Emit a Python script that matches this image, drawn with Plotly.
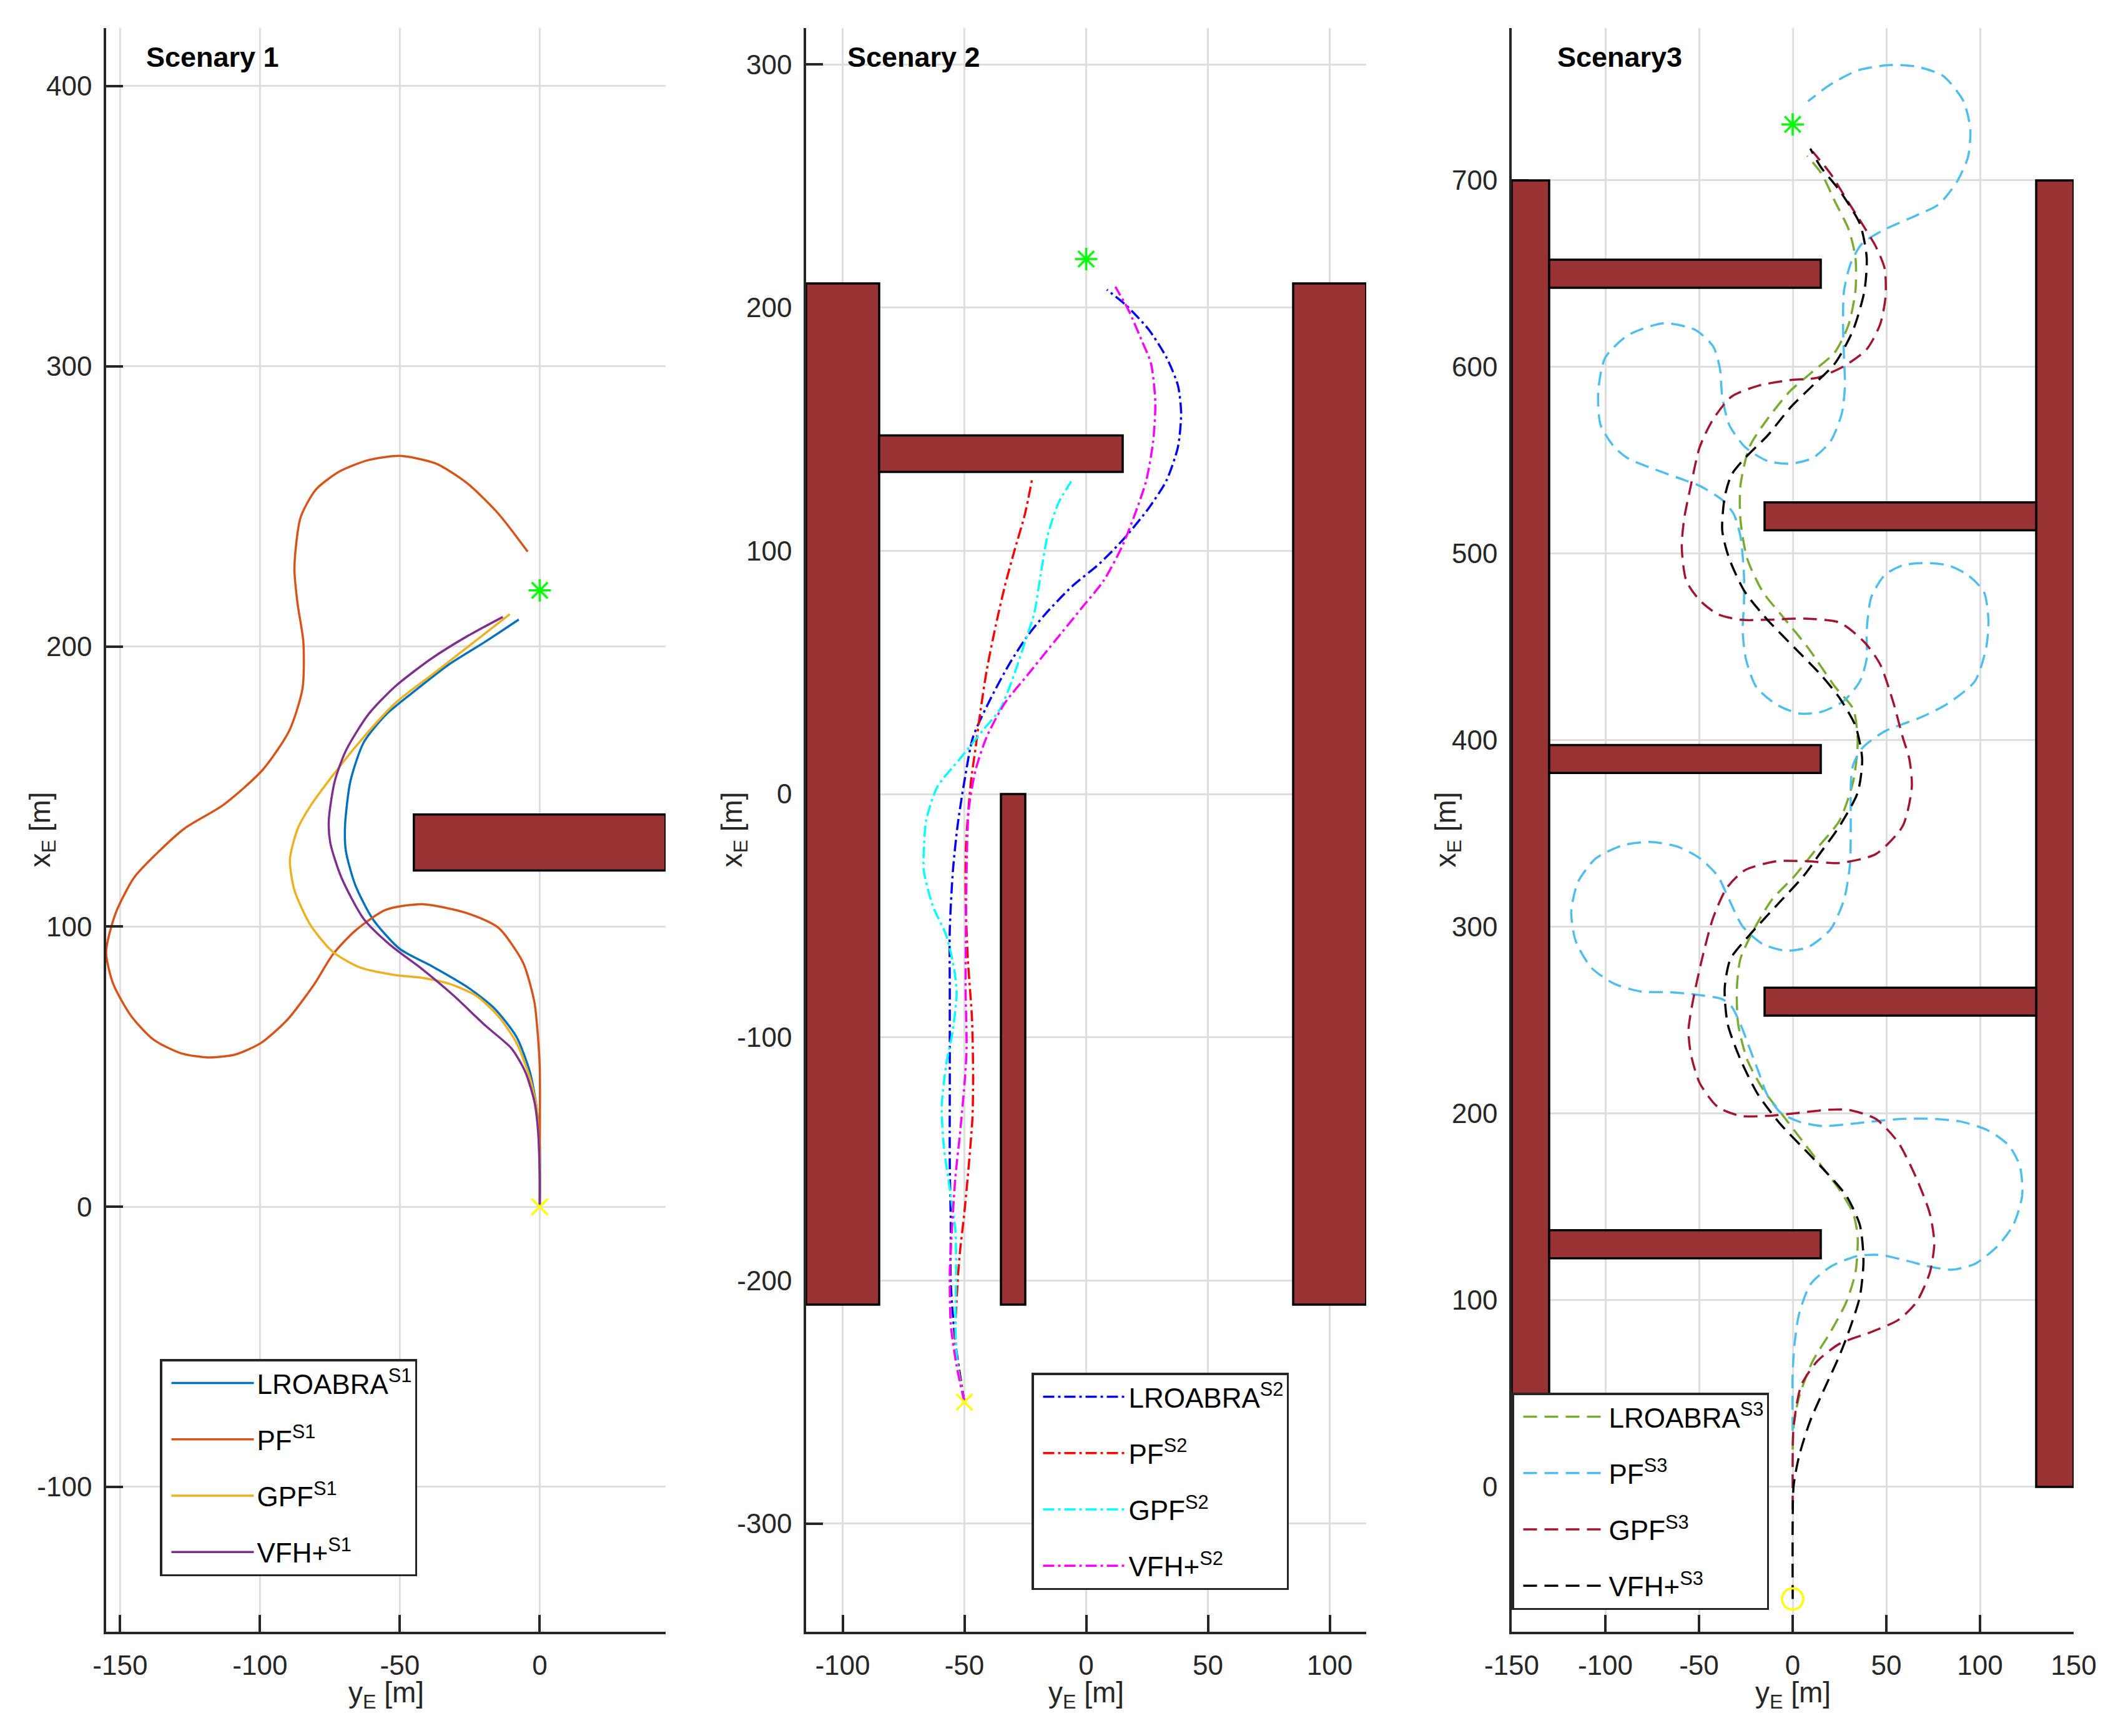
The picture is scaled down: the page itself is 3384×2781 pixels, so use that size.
import plotly.graph_objects as go

W, H = 3384, 2781
FONT = "Liberation Sans, Arial, Helvetica, sans-serif"

# ---------------- Scenario 1 (y_E horizontal, x_E vertical) ----------------
s1_lroabra_y = [0, 0, -1.1, -3.5, -8.3, -16.4, -26, -38.8, -50, -59.7, -66, -69.3, -69.6, -67.7, -62.9, -54.9, -45.2, -32.4, -19.6, -7.5]
s1_lroabra_x = [0, 22, 35.4, 48, 60.6, 71, 78.5, 86, 92, 102.7, 115, 127, 136, 151.8, 165.8, 175.7, 183.7, 193.6, 201.6, 209.6]
s1_pf_y = [0, 0, 0, -1, -1.9, -5.9, -14.8, -26, -42, -55, -66, -74, -80.5, -90, -99.6, -109, -118.6, -128, -138, -146, -152.5, -155,
           -151.6, -145, -137, -127, -113, -99, -89.5, -84.8, -84.5, -86.6, -87.7, -85.5, -80, -71.5, -61.3, -50, -37.2, -26, -14.8, -4.3]
s1_pf_x = [0, 15, 50, 65, 73, 87, 99.6, 104.8, 108, 106, 98.5, 90, 79.6, 67, 58.5, 54.3, 53.3, 54.7, 59.6, 68, 79.6, 91,
           104.8, 117.5, 126, 135, 143.5, 156, 170, 185, 201.6, 215.5, 228, 246, 256, 262.5, 266.5, 268, 265.3, 258.3, 247.4, 233.8]
s1_gpf_y = [0, 0, -0.3, -1.1, -3.5, -8.3, -14.8, -22.8, -32.4, -42, -51.7, -64.5, -74, -82, -87.7, -89.3, -86.5, -82, -74.1, -64.5, -51.7, -38.8, -26, -10.7]
s1_gpf_x = [0, 15, 22.7, 35.4, 46, 58.5, 68, 75.4, 79.6, 81.7, 82.7, 85.5, 91, 100.6, 113, 124, 135, 143, 153.8, 165.8, 179.7, 189.7, 199.6, 211.5]
s1_vfh_y = [0, 0, -0.6, -1.9, -5.1, -10, -19.6, -30.8, -42, -53.3, -62.9, -70.9, -74.9, -75.4, -73.3, -69.3, -61.3, -51.7, -38.8, -26, -13.2]
s1_vfh_x = [0, 10, 27, 37.5, 48, 56.4, 64.8, 75.4, 84.8, 93.3, 102.7, 117.5, 130, 138, 151.8, 162.8, 175.7, 185.7, 195.6, 203.6, 210.5]
s1_goal = (0, 220)
s1_start = (0, 0)
# obstacles: y_E min, y_E max, x_E min, x_E max
s1_obs_ymin = [-45]
s1_obs_ymax = [45]
s1_obs_xmin = [120]
s1_obs_xmax = [140]

# ---------------- Scenario 2 ----------------
s2_lroabra_y = [-50, -53.7, -55.6, -55.6, -56, -56, -56, -56, -54.7, -52.8, -50, -46.4, -39, -31.6, -24.2, -16.8, -5.7, 5.4, 15.5, 25.7, 33, 37.7, 39, 37.7, 33, 25.7, 16.4, 8.5]
s2_lroabra_x = [-250, -225.5, -201, -177, -152.7, -116, -79.9, -55.6, -31.3, -13, 5.3, 23.6, 39.7, 53.4, 64.9, 74, 85.5, 94.7, 105, 117.6, 129, 142.8, 156.5, 168, 179.5, 191, 201, 207.4]
s2_pf_y = [-50, -53.7, -52.8, -51.9, -50, -48.2, -46.7, -46.4, -46.9, -48.6, -49.5, -49.3, -47.3, -45.4, -43.6, -40.8, -37.1, -33.4, -29.7, -25.1, -22.2]
s2_pf_x = [-250, -225.5, -201, -189, -172, -152.7, -133.3, -116.3, -92, -67.7, -43.4, -20, 5.3, 19, 32.8, 51.1, 69.4, 85.5, 99.2, 115.3, 129.5]
s2_gpf_y = [-50, -52.8, -53.7, -53.4, -53.7, -56, -58.4, -59.3, -57.5, -54.7, -53.2, -54.1, -57.5, -63, -66.7, -66.5, -65.7, -61.1, -51.9, -42.7,
            -35.3, -29.7, -25.1, -21.4, -18.7, -15.9, -11.3, -6.1]
s2_gpf_x = [-250, -235.2, -218.2, -196.4, -179.4, -162.4, -145.4, -128.4, -111.4, -96.8, -82.3, -72.6, -58, -45.9, -31.3, -20, -10.8, 3, 14.4, 25.9,
            35, 48.8, 62.6, 74, 90, 106, 119.9, 128.6]
s2_vfh_y = [-50, -53.2, -55.6, -56, -55, -53.7, -51.9, -49.7, -49.1, -49.5, -49.1, -48.2, -45.4, -40.8, -33.4, -24.2, -13.1, -2, 7.2, 14.6,
            20.1, 24.7, 27.5, 28.4, 26.6, 22.9, 17.4, 12]
s2_vfh_x = [-250, -235.2, -218, -196.4, -177, -157.5, -140.5, -116, -104, -79.9, -31.3, -6.2, 9.9, 23.6, 37.4, 48.8, 62.6, 76.3, 87.8, 101.5,
            115.3, 129, 145, 161.1, 177.2, 186.3, 199, 208.6]
s2_goal = (0, 220)
s2_start = (-50, -250)
s2_obs_ymin = [-115, -85, -35, 85]
s2_obs_ymax = [-85, 15, -25, 115]
s2_obs_xmin = [-210, 132.5, -210, -210]
s2_obs_xmax = [210, 147.5, 0, 210]

# ---------------- Scenario 3 ----------------
s3_lroabra_y = [0, 0.5, 3.4, 10.6, 20.2, 28.6, 33.5, 34.7, 32.3, 25, 15.4, 3.4, -6.3, -15.9, -24.3, -29.1, -29.8, -27.9, -20.7, -11.1, 1, 12, 25,
                32.3, 34.7, 32.3, 22.6, 8.2, -3.9, -15.9, -24.3, -27.9, -27.9, -23.1, -13.5, -1.4, 10.6, 22.6, 29.9, 33.5, 33.5, 29.9, 22.6, 15.4, 7.7]
s3_lroabra_x = [20, 32.3, 48.2, 67.2, 83, 99, 114.8, 133.8, 146.5, 159.2, 171.9, 187.7, 200.4, 213.1, 229, 248, 267, 282.9, 298.7, 314.6, 327.3, 341, 357,
                378, 398.8, 416.8, 428.7, 449.6, 464.6, 479.5, 497.4, 518.3, 536.3, 557.2, 572.1, 587.1, 597.5, 608, 622.9, 640.8, 658.7, 673.7, 688.6, 703.6, 713.1]
s3_pf_y = [0, 0, 1, 3.4, 9.4, 20.2, 34.7, 46.7, 61.1, 73.2, 85.2, 97.3, 109.3, 117.7, 122.5, 121.3, 115.3, 104.5, 90, 75.6, 58.7, 41.9, 27.4, 15.4,
           3.4, -6.3, -13.5, -18.3, -23.1, -27.9, -32.7, -37.6, -52, -66.4, -80.9, -95.3, -107.4, -115.8, -118.2, -114.6, -105, -90.5, -76.1,
           -61.6, -49.6, -40, -33.9, -26.7, -15.9, -3.9, 8.2, 20.2, 27.4, 30.6, 31, 31.1, 32.3, 37.1, 49.1, 68.4, 82.8, 97.3, 103.3, 104.5,
           102.1, 93.6, 82.8, 70.8, 58.7, 49.1, 41.9, 39.5, 39.5, 35.9, 27.4, 15.4, 3.4, -8.7, -19.5, -25, -26.7, -26, -26, -27.9, -31.5,
           -37.6, -49.6, -61.6, -73.7, -88.1, -95.3, -102.6, -103.8, -100.1, -88.1, -68.8, -52, -42.4, -38.8, -37.6, -33.9, -25.5, -13.5,
           -1.4, 10.6, 20.2, 26.2, 27.9, 27.4, 26.9, 27.4, 31.1, 37.1, 49.1, 66, 78, 87.6, 93.6, 94.8, 91.2, 80.4, 66, 51.5, 34.7, 20.2, 8.2]
s3_pf_x = [30, 60.8, 76.7, 92.6, 108.4, 118, 123.7, 124.3, 121.1, 118, 116.4, 119.5, 129, 140.2, 156, 171.9, 183, 190.9, 195.7, 197.2, 197.2, 195.7, 194.1, 193.4,
           195.7, 200.4, 209.9, 222.6, 235.3, 248, 257.5, 261.3, 263.8, 265.1, 265.4, 269.6, 278.1, 292.4, 308.2, 324.1, 336.8, 343.8, 345.6,
           343.1, 336.8, 327.3, 314.6, 300.3, 290.8, 287.3, 289.2, 298.7, 314.6, 333.6, 352.6, 377.9, 386.9, 395.8, 404.8, 412.3, 419.7, 431.7, 449.6, 464.6,
           479.5, 488.5, 493.8, 495, 493.8, 488.5, 476.5, 458.6, 443.7, 431.7, 421.2, 415.3, 414.4, 419.2, 428.7, 443.7, 458.6, 473.5, 488.5, 509.4, 521.3,
           528.8, 536.3, 540.8, 545.2, 551.2, 557.2, 569.1, 587.1, 605, 616.9, 623.5, 619.9, 611, 599, 584.1, 569.1, 557.2, 549.7,
           548.2, 551.2, 560.2, 575.1, 590, 605, 622.9, 640.8, 655.8, 666.2, 673.7, 681.2, 687.2, 699.1, 712.5, 727.5, 742.4, 755.9, 761, 761.8, 758.9, 751.4, 742.4]
s3_gpf_y = [0, 0, 0.5, 4.6, 13, 25, 41.9, 56.3, 66, 73.2, 75.6, 73.2, 66, 56.3, 44.3, 29.9, 17.8, 3.4, -13.5, -27.9, -40, -49.6, -54.4, -55.6, -53.2,
            -48.4, -42.4, -35.2, -25.5, -8.7, 8.2, 25, 44.3, 58.7, 63.6, 62.3, 58.7, 53.9, 46.7, 38.3, 25, 5.8, -13.5, -27.9, -40, -49.6, -56.8,
            -59.2, -58, -54.4, -49.6, -42.4, -32.7, -18.3, -1.4, 13, 27.4, 39.5, 46.7, 49.6, 49.1, 44.3, 37.1, 28.6, 20.2, 10.6]
s3_gpf_x = [-12, -5.7, 32.3, 54.5, 67.2, 76.7, 83, 89.4, 98.9, 114.8, 130.6, 146.5, 165.5, 184.6, 197.2, 202, 202, 200.4, 198.8, 198.8, 203.6, 216.3, 232.1, 244.8, 260.7,
            282.9, 305.1, 320.9, 330.4, 335.2, 335.2, 334.3, 339, 354, 374.9, 389.9, 401.8, 419.7, 440.7, 452.6, 463.1, 465.2, 464.6, 464.6, 467.6, 475, 485.5,
            503.4, 518.3, 536.3, 557.2, 572.1, 584.1, 590, 593, 594.2, 600.5, 609.5, 622.9, 637.9, 652.8, 664.7, 676.7, 690.1, 703.6, 715.5]
s3_vfh_y = [0, 0, 0.5, 3.4, 9.4, 17.8, 25, 31, 35.9, 37.8, 35.9, 28.6, 17.8, 5.8, -6.3, -18.3, -27.9, -34.7, -36.3, -33.2, -23.1, -8.7, 5.8, 15,
            25, 34.7, 37.1, 33.5, 25, 15.4, 1, -13.5, -25.5, -33.9, -37.6, -36.3, -32.7, -25.5, -13.5, -1.4, 10.6, 22.6, 32.3, 38.3, 39.5, 35.9, 25, 15.4, 9.4]
s3_vfh_x = [-60, -18.4, 0.6, 16.5, 35.5, 54.5, 70.4, 86.2, 102.1, 121.1, 140.2, 156, 168.7, 181.4, 194.1, 209.9, 229, 248, 267, 282.9, 295.6, 311.4, 327.3, 340,
            354, 372, 389.9, 407.8, 422.7, 434.7, 449.6, 464.6, 479.5, 497.4, 512.4, 530.3, 542.2, 551.2, 563.2, 578.1, 590, 602, 619.9, 640.8, 658.8, 676.7, 694.6, 706.6, 717]
s3_goal = (0, 730)
s3_start = (0, -60)
s3_obs_ymin = [-150, 130, -130, -130, -130, -15, -15]
s3_obs_ymax = [-130, 150, 15, 15, 15, 130, 130]
s3_obs_xmin = [0, 0, 642.5, 382.5, 122.5, 512.5, 252.5]
s3_obs_xmax = [700, 700, 657.5, 397.5, 137.5, 527.5, 267.5]

methods = ["LROABRA", "PF", "GPF", "VFH+"]

# tick values / labels
s1_xticks = [-150, -100, -50, 0]
s1_yticks = [-100, 0, 100, 200, 300, 400]
s2_xticks = [-100, -50, 0, 50, 100]
s2_yticks = [-300, -200, -100, 0, 100, 200, 300]
s3_xticks = [-150, -100, -50, 0, 50, 100, 150]
s3_yticks = [0, 100, 200, 300, 400, 500, 600, 700]

titles = ["Scenary 1", "Scenary 2", "Scenary3"]

# ---------------- styling ----------------
s1_colors = ["#0072BD", "#D95319", "#EDB120", "#7E2F8E"]
s2_colors = ["#0000FF", "#FF0000", "#00FFFF", "#FF00FF"]
s3_colors = ["#77AC30", "#4DBEEE", "#A2142F", "#000000"]
s1_dash = "solid"
s2_dash = "18px,6px,4px,6px"
s3_dash = "22px,12px"
LW = 3.5
OBS_FILL = "#993333"
AX_COLOR = "#262626"

# panel geometry in pixels of the figure
panels = [
    dict(x0=170, x1=1066, xr=[-155, 45], yr=[-151.7, 420.7]),
    dict(x0=1291, x1=2188, xr=[-115, 115], yr=[-344.5, 315]),
    dict(x0=2421, x1=3321, xr=[-150, 150], yr=[-77.6, 781.6]),
]
TOP, BOT = 45, 2614

fig = go.Figure()

scen = [
    (list(zip([s1_lroabra_y, s1_pf_y, s1_gpf_y, s1_vfh_y], [s1_lroabra_x, s1_pf_x, s1_gpf_x, s1_vfh_x])), s1_colors, s1_dash, "S1"),
    (list(zip([s2_lroabra_y, s2_pf_y, s2_gpf_y, s2_vfh_y], [s2_lroabra_x, s2_pf_x, s2_gpf_x, s2_vfh_x])), s2_colors, s2_dash, "S2"),
    (list(zip([s3_lroabra_y, s3_pf_y, s3_gpf_y, s3_vfh_y], [s3_lroabra_x, s3_pf_x, s3_gpf_x, s3_vfh_x])), s3_colors, s3_dash, "S3"),
]
legend_ids = ["legend", "legend2", "legend3"]

for i, (series, colors, dash, tag) in enumerate(scen):
    xa = "x" if i == 0 else f"x{i+1}"
    ya = "y" if i == 0 else f"y{i+1}"
    for j, (yy, xx) in enumerate(series):
        fig.add_trace(go.Scatter(
            x=yy, y=xx, mode="lines", xaxis=xa, yaxis=ya,
            name=f"{methods[j]}<sup>{tag}</sup>",
            legend=legend_ids[i], legendgroup=f"{tag}_{j}",
            line=dict(color=colors[j], width=LW, dash=dash, shape="spline", smoothing=0.7),
            hoverinfo="skip",
        ))

# goal / start markers
goals = [s1_goal, s2_goal, s3_goal]
starts = [s1_start, s2_start, s3_start]
start_symbols = ["x-thin-open", "x-thin-open", "circle-open"]
start_sizes = [26, 26, 34]
for i in range(3):
    xa = "x" if i == 0 else f"x{i+1}"
    ya = "y" if i == 0 else f"y{i+1}"
    fig.add_trace(go.Scatter(x=[goals[i][0]], y=[goals[i][1]], mode="markers", xaxis=xa, yaxis=ya,
                             showlegend=False, hoverinfo="skip",
                             marker=dict(symbol="asterisk-open", size=30, color="#00FF00",
                                         line=dict(color="#00FF00", width=3.5))))
    fig.add_trace(go.Scatter(x=[starts[i][0]], y=[starts[i][1]], mode="markers", xaxis=xa, yaxis=ya,
                             showlegend=False, hoverinfo="skip",
                             marker=dict(symbol=start_symbols[i], size=start_sizes[i], color="#FFFF00",
                                         line=dict(color="#FFFF00", width=3.5))))

# obstacles
obs = [
    (s1_obs_ymin, s1_obs_ymax, s1_obs_xmin, s1_obs_xmax),
    (s2_obs_ymin, s2_obs_ymax, s2_obs_xmin, s2_obs_xmax),
    (s3_obs_ymin, s3_obs_ymax, s3_obs_xmin, s3_obs_xmax),
]
shapes = []
for i, (ymn, ymx, xmn, xmx) in enumerate(obs):
    xa = "x" if i == 0 else f"x{i+1}"
    ya = "y" if i == 0 else f"y{i+1}"
    for a, b, c, d in zip(ymn, ymx, xmn, xmx):
        shapes.append(dict(type="rect", xref=xa, yref=ya, x0=a, x1=b, y0=c, y1=d,
                           fillcolor=OBS_FILL, line=dict(color="black", width=3.5), layer="above"))

tickfont = dict(family=FONT, size=44, color=AX_COLOR)


def axis_common():
    return dict(showline=True, linecolor=AX_COLOR, linewidth=3.5, mirror=False,
                ticks="inside", ticklen=27, tickwidth=3.5, tickcolor=AX_COLOR,
                showgrid=True, gridcolor="#dedede", gridwidth=3, zeroline=False,
                tickfont=tickfont, fixedrange=True, tickmode="array", automargin=False)


xticks = [s1_xticks, s2_xticks, s3_xticks]
yticks = [s1_yticks, s2_yticks, s3_yticks]
layout_axes = {}
for i, p in enumerate(panels):
    xk = "xaxis" if i == 0 else f"xaxis{i+1}"
    yk = "yaxis" if i == 0 else f"yaxis{i+1}"
    xa = "x" if i == 0 else f"x{i+1}"
    ya = "y" if i == 0 else f"y{i+1}"
    layout_axes[xk] = dict(axis_common(), domain=[p["x0"] / W, p["x1"] / W], range=p["xr"], anchor=ya,
                           tickvals=xticks[i], ticktext=[str(v) for v in xticks[i]], ticklabelstandoff=12)
    layout_axes[yk] = dict(axis_common(), domain=[1 - BOT / H, 1 - TOP / H], range=p["yr"], anchor=xa,
                           tickvals=yticks[i], ticktext=[str(v) for v in yticks[i]], ticklabelstandoff=10)

annotations = []
title_x = [232, 1355, 2492]
ylab_x = [67, 1175, 2318]
for i, p in enumerate(panels):
    annotations.append(dict(text=f"<b>{titles[i]}</b>", xref="paper", yref="paper", x=title_x[i] / W, y=1 - 92 / H,
                            xanchor="left", yanchor="middle", showarrow=False,
                            font=dict(family=FONT, size=45, color="black")))
    annotations.append(dict(text="y<sub>E</sub> [m]", xref="paper", yref="paper", x=(p["x0"] + p["x1"]) / 2 / W,
                            y=1 - 2714 / H, xanchor="center", yanchor="middle", showarrow=False,
                            font=dict(family=FONT, size=46, color=AX_COLOR)))
    annotations.append(dict(text="x<sub>E</sub> [m]", xref="paper", yref="paper", x=ylab_x[i] / W,
                            y=1 - (TOP + BOT) / 2 / H, xanchor="center", yanchor="middle", textangle=-90,
                            showarrow=False, font=dict(family=FONT, size=46, color=AX_COLOR)))


def legend_cfg(px, py):
    return dict(x=px / W, y=1 - py / H, xanchor="left", yanchor="top", xref="paper", yref="paper",
                bgcolor="white", bordercolor=AX_COLOR, borderwidth=3.5,
                font=dict(family=FONT, size=44, color="black"),
                itemwidth=132, indentation=10, tracegroupgap=30, traceorder="grouped")


fig.update_layout(
    width=W, height=H, margin=dict(l=0, r=0, t=0, b=0, pad=0, autoexpand=False),
    paper_bgcolor="white", plot_bgcolor="white", showlegend=True,
    shapes=shapes, annotations=annotations,
    legend=legend_cfg(256, 2177), legend2=legend_cfg(1652, 2199), legend3=legend_cfg(2421, 2231),
    **layout_axes,
)

fig.write_html("out.html", config={"displayModeBar": False},
               post_script="document.body.style.margin='0';")
